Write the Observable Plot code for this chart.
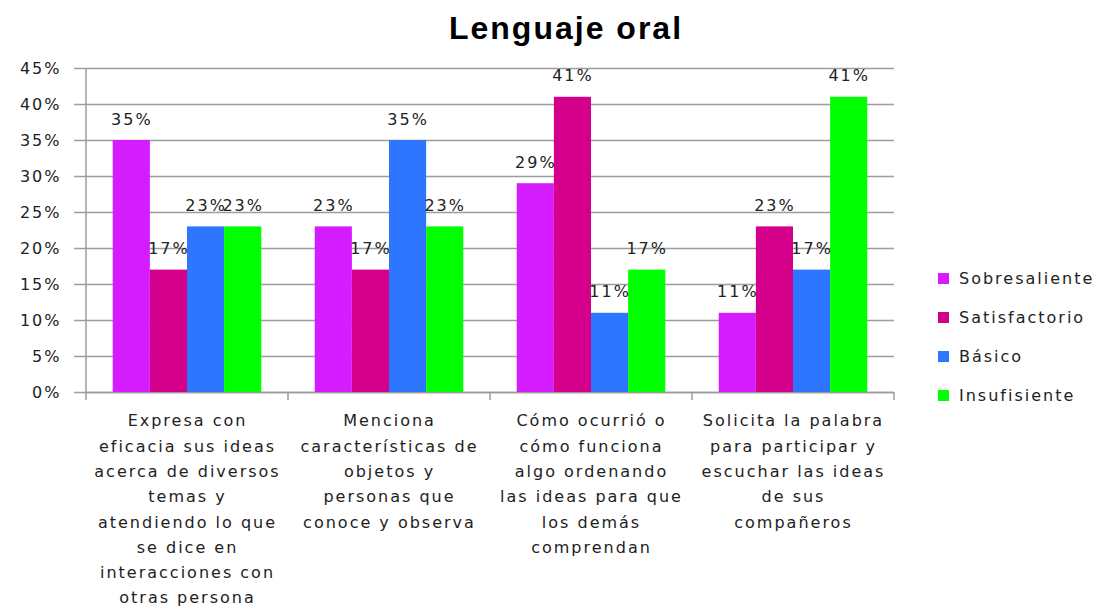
<!DOCTYPE html>
<html>
<head>
<meta charset="utf-8">
<script src="https://cdn.jsdelivr.net/npm/d3@7"></script>
<script src="https://cdn.jsdelivr.net/npm/@observablehq/plot@0.6"></script>
<style>
  html, body { margin: 0; padding: 0; background: #fff; }
  #wrap { position: relative; width: 1112px; height: 614px; overflow: hidden; }
  #title { position: absolute; left: 0; top: 0; width: 1112px; padding-left: 20px; box-sizing: border-box;
           text-align: center; font-family: "Liberation Sans", Arial, sans-serif; font-weight: bold;
           font-size: 32px; letter-spacing: 2px; line-height: 36px; padding-top: 10px; color: #000; }
  #chart { position: absolute; left: 0; top: 55px; }
  #chart svg text { letter-spacing: 2px; }
  #legend { position: absolute; left: 938px; top: 259px; font-family: "DejaVu Sans", Verdana, sans-serif;
            font-size: 16px; letter-spacing: 2px; color: #222; }
  .item { height: 39px; display: flex; align-items: center; }
  .sw { width: 11px; height: 11px; margin-right: 10px; }
</style>
</head>
<body>
<div id="wrap">
  <div id="title">Lenguaje oral</div>
  <div id="chart"></div>
  <div id="legend"></div>
</div>
<script>
const categories = [
  "Expresa con eficacia sus ideas acerca de diversos temas y atendiendo lo que se dice en interacciones con otras persona",
  "Menciona características de objetos y personas que conoce y observa",
  "Cómo ocurrió o cómo funciona algo ordenando las ideas para que los demás comprendan",
  "Solicita la palabra para participar y escuchar las ideas de sus compañeros"
];
const categoryLabels = [
  "Expresa con\neficacia sus ideas\nacerca de diversos\ntemas y\natendiendo lo que\nse dice en\ninteracciones con\notras persona",
  "Menciona\ncaracterísticas de\nobjetos y\npersonas que\nconoce y observa",
  "Cómo ocurrió o\ncómo funciona\nalgo ordenando\nlas ideas para que\nlos demás\ncomprendan",
  "Solicita la palabra\npara participar y\nescuchar las ideas\nde sus\ncompañeros"
];
const series = ["Sobresaliente", "Satisfactorio", "Básico", "Insufisiente"];
const colors = ["#d41cff", "#d4008c", "#2e75ff", "#00ff00"];
const sobresaliente = [0.35, 0.23, 0.29, 0.11];
const satisfactorio = [0.17, 0.17, 0.41, 0.23];
const basico = [0.23, 0.35, 0.11, 0.17];
const insufisiente = [0.23, 0.23, 0.17, 0.41];
const yTicks = [0, 0.05, 0.10, 0.15, 0.20, 0.25, 0.30, 0.35, 0.40, 0.45];

const valuesBySeries = [sobresaliente, satisfactorio, basico, insufisiente];
const rows = [];
categories.forEach((c, i) => {
  series.forEach((s, j) => rows.push({category: c, series: s, value: valuesBySeries[j][i]}));
});

const grey = "#9c9c9c";
const pct = d3.format(".0%");

const plot = Plot.plot({
  width: 1112,
  height: 559,
  marginTop: 13,
  marginLeft: 84,
  marginRight: 217,
  marginBottom: 222,
  style: {fontFamily: "DejaVu Sans, Verdana, sans-serif", fontSize: "16px", color: "#222", background: "#fff", overflow: "visible"},
  fx: {domain: categories, padding: 0, label: null},
  x: {domain: series, paddingInner: 0, paddingOuter: 0.72, round: false, axis: null},
  y: {domain: [0, 0.45], label: null},
  color: {domain: series, range: colors},
  marks: [
    Plot.gridY(yTicks, {stroke: grey, strokeOpacity: 1, strokeWidth: 1.5}),
    Plot.ruleY([0], {stroke: grey, strokeWidth: 1.5}),
    Plot.barY(rows, {fx: "category", x: "series", y: "value", fill: "series"}),
    Plot.text(rows, {fx: "category", x: "series", y: "value", text: d => pct(d.value),
                     lineAnchor: "bottom", dy: -16, fill: "#222", fontSize: 16}),
    Plot.axisY(yTicks, {tickFormat: d => pct(d), tickSize: 12, tickPadding: 13, stroke: grey, strokeWidth: 1.5, fill: "#222", fontSize: 16, label: null}),
    Plot.axisFx({anchor: "bottom", tickSize: 0, tickPadding: 16, lineHeight: 1.58, fontSize: 16, fill: "#222",
                 tickFormat: d => categoryLabels[categories.indexOf(d)], label: null})
  ]
});

// left axis line and group boundary ticks, positioned from the plot's own scales
const fx = plot.scale("fx");
const y = plot.scale("y");
const g = d3.select(plot).append("g").attr("stroke", grey).attr("stroke-width", 1.5);
const y0 = y.apply(0), yTop = y.apply(0.45);
const left = fx.apply(categories[0]);
g.append("line").attr("x1", left).attr("x2", left).attr("y1", yTop).attr("y2", y0 + 8);
categories.forEach(c => {
  const xr = fx.apply(c) + fx.bandwidth;
  g.append("line").attr("x1", xr).attr("x2", xr).attr("y1", y0).attr("y2", y0 + 8);
});

document.getElementById("chart").appendChild(plot);

const legend = d3.select("#legend");
series.forEach((s, i) => {
  const it = legend.append("div").attr("class", "item");
  it.append("div").attr("class", "sw").style("background", colors[i]);
  it.append("span").text(s);
});
</script>
</body>
</html>
